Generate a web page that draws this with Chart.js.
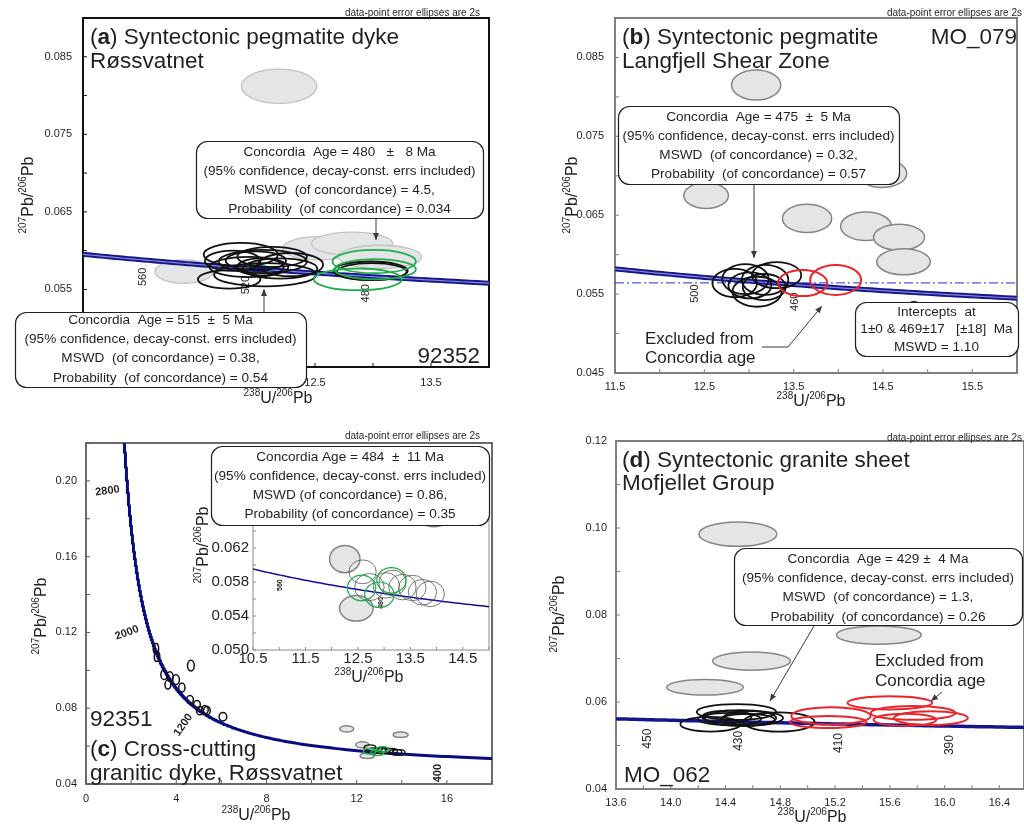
<!DOCTYPE html>
<html lang="en">
<head>
<meta charset="utf-8">
<title>U–Pb Tera-Wasserburg concordia diagrams</title>
<script src="https://cdn.jsdelivr.net/npm/chart.js@4.4.1/dist/chart.umd.min.js"></script>
<style>
  html, body { margin: 0; padding: 0; background: #ffffff; }
  #sheet { position: relative; width: 1024px; height: 824px; overflow: hidden; background: #ffffff; }
  #sheet canvas { position: absolute; left: 0; top: 0; }
</style>
</head>
<body>
<div id="sheet">
  <canvas id="panelA" width="1024" height="824"></canvas>
  <canvas id="panelB" width="1024" height="824"></canvas>
  <canvas id="panelC" width="1024" height="824"></canvas>
  <canvas id="panelD" width="1024" height="824"></canvas>
  <canvas id="panelCInset" width="1024" height="824"></canvas>
</div>
<script>
// ---------------------------------------------------------------------------
// Analyses: [238U/206Pb, 207Pb/206Pb, 2s error on x, 2s error on y]
// ---------------------------------------------------------------------------

// (a) 92352 — syntectonic pegmatite dyke, Røssvatnet
const aGrayEllipses = [
  [12.19, 0.0812, 0.325, 0.0022],
  [11.37, 0.0573, 0.25, 0.0015],
  [12.53, 0.0603, 0.31, 0.0015],
  [12.82, 0.0609, 0.35, 0.0015],
  [13.06, 0.0592, 0.36, 0.0015]
];
const aBlackEllipses = [
  [11.86, 0.0595, 0.32, 0.0015],
  [12.05, 0.0586, 0.38, 0.0015],
  [11.76, 0.0563, 0.27, 0.0012],
  [12.07, 0.0569, 0.44, 0.0015],
  [12.29, 0.0582, 0.28, 0.0015],
  [11.99, 0.0587, 0.26, 0.0012],
  [12.13, 0.0592, 0.30, 0.0013],
  [11.93, 0.0579, 0.34, 0.0013],
  [11.79, 0.0587, 0.24, 0.0013],
  [12.20, 0.0577, 0.32, 0.0013],
  [12.03, 0.0579, 0.20, 0.0011],
  [12.98, 0.0574, 0.32, 0.0012],
  [12.99, 0.0573, 0.30, 0.0011]
];
const aGreenEllipses = [
  [13.01, 0.0586, 0.36, 0.0015],
  [12.87, 0.0563, 0.38, 0.0014],
  [13.02, 0.0576, 0.35, 0.0013]
];
const aConcordiaFits = [[515, 0.11, 0.0005]];
const aAgeLabels = [560, 520, 480];
const aXTickLabels = [10.5, 11.5, 12.5, 13.5];
const aYTickLabels = [0.045, 0.055, 0.065, 0.075, 0.085];

// (b) MO_079 — syntectonic pegmatite, Langfjell Shear Zone
const bGrayEllipses = [
  [13.08, 0.0815, 0.275, 0.0019],
  [12.52, 0.0675, 0.25, 0.00165],
  [14.49, 0.0703, 0.275, 0.0018],
  [13.65, 0.0646, 0.275, 0.0018],
  [14.31, 0.0636, 0.285, 0.0018],
  [14.68, 0.0622, 0.285, 0.00165],
  [14.73, 0.0591, 0.30, 0.00165]
];
const bBlackEllipses = [
  [12.84, 0.0564, 0.25, 0.0018],
  [13.09, 0.0553, 0.275, 0.0019],
  [12.96, 0.0569, 0.26, 0.0019],
  [13.18, 0.0568, 0.26, 0.0019],
  [13.31, 0.0574, 0.275, 0.00165],
  [13.01, 0.0561, 0.24, 0.00165],
  [13.17, 0.0559, 0.24, 0.00165]
];
const bRedEllipses = [
  [13.60, 0.0564, 0.275, 0.00165],
  [13.97, 0.0568, 0.285, 0.0019]
];
const bInterceptAges = [1, 469];
const bAgeLabels = [500, 460, 420];
const bXTickLabels = [11.5, 12.5, 13.5, 14.5, 15.5];
const bYTickLabels = [0.045, 0.055, 0.065, 0.075, 0.085];

// (c) 92351 — cross-cutting granitic dyke, Røssvatnet
const cCoreEllipses = [
  [3.10, 0.1115, 0.12, 0.0027],
  [3.15, 0.1073, 0.12, 0.0027],
  [3.46, 0.0977, 0.14, 0.0026],
  [3.72, 0.0967, 0.14, 0.0026],
  [3.63, 0.0925, 0.13, 0.0024],
  [3.99, 0.0951, 0.15, 0.0026],
  [4.25, 0.0909, 0.14, 0.0024],
  [4.65, 0.1025, 0.15, 0.0028],
  [4.61, 0.0845, 0.15, 0.0022],
  [4.92, 0.0819, 0.15, 0.0022],
  [5.05, 0.0787, 0.15, 0.0022],
  [5.27, 0.0792, 0.15, 0.0022],
  [5.36, 0.0787, 0.15, 0.0022],
  [6.07, 0.0755, 0.17, 0.0022]
];
const cGrayEllipses = [
  [11.56, 0.0691, 0.31, 0.0017],
  [12.25, 0.0607, 0.29, 0.0016],
  [12.47, 0.0549, 0.32, 0.0015],
  [13.95, 0.0660, 0.33, 0.0015]
];
const cBlackEllipses = [
  [12.59, 0.0592, 0.26, 0.0014],
  [12.72, 0.0574, 0.28, 0.0016],
  [13.04, 0.0576, 0.25, 0.0015],
  [13.16, 0.0579, 0.26, 0.0015],
  [13.35, 0.0574, 0.26, 0.0015],
  [13.54, 0.0573, 0.26, 0.0015],
  [13.73, 0.0568, 0.27, 0.0015],
  [13.88, 0.0566, 0.27, 0.0015]
];
const cGreenEllipses = [
  [12.57, 0.0573, 0.27, 0.0015],
  [12.91, 0.0565, 0.28, 0.0015],
  [13.14, 0.0582, 0.28, 0.0015]
];
const cAgeLabels = [2800, 2000, 1200, 400];
const cInsetAgeLabels = [560, 480];
const cXTickLabels = [0, 4, 8, 12, 16];
const cYTickLabels = [0.04, 0.08, 0.12, 0.16, 0.20];
const cInsetXTickLabels = [10.5, 11.5, 12.5, 13.5, 14.5];
const cInsetYTickLabels = [0.050, 0.054, 0.058, 0.062, 0.066, 0.070];

// (d) MO_062 — syntectonic granite sheet, Mofjellet Group
const dGrayEllipses = [
  [14.49, 0.0986, 0.285, 0.0028],
  [15.52, 0.0754, 0.31, 0.0021],
  [14.59, 0.0694, 0.285, 0.0021],
  [14.25, 0.0634, 0.28, 0.0018]
];
const dBlackEllipses = [
  [14.48, 0.0577, 0.29, 0.0018],
  [14.29, 0.0549, 0.22, 0.0017],
  [14.79, 0.0554, 0.26, 0.0022],
  [14.51, 0.0563, 0.26, 0.0018],
  [14.43, 0.0561, 0.23, 0.0014],
  [14.56, 0.0559, 0.20, 0.0014],
  [14.41, 0.0566, 0.18, 0.0014],
  [14.60, 0.0563, 0.22, 0.0016]
];
const dRedEllipses = [
  [15.17, 0.0568, 0.29, 0.0020],
  [15.15, 0.0554, 0.28, 0.0014],
  [15.60, 0.0598, 0.31, 0.0015],
  [15.77, 0.0575, 0.31, 0.0016],
  [15.71, 0.0559, 0.23, 0.0014],
  [15.90, 0.0563, 0.27, 0.0016]
];
const dAgeLabels = [450, 430, 410, 390];
const dXTickLabels = [13.6, 14.0, 14.4, 14.8, 15.2, 15.6, 16.0, 16.4];
const dYTickLabels = [0.04, 0.06, 0.08, 0.10, 0.12];

// ---------------------------------------------------------------------------
// Concordia (Tera-Wasserburg) from the U decay constants
// ---------------------------------------------------------------------------
const LAMBDA_238 = 1.55125e-10;
const LAMBDA_235 = 9.8485e-10;
const U238_U235 = 137.88;

function concordia(ageMa) {
  const t = ageMa * 1e6;
  const e238 = Math.expm1(LAMBDA_238 * t);
  const e235 = Math.expm1(LAMBDA_235 * t);
  return { x: 1 / e238, y: e235 / e238 / U238_U235 };
}
function concordiaCurve(fromMa, toMa, stepMa) {
  const pts = [];
  for (let t = fromMa; t <= toMa + 1e-9; t += stepMa) pts.push(concordia(t));
  return pts;
}
// discordia through the two intercept ages, evaluated at the given x values
function discordia(ages, xs) {
  const p = concordia(ages[0]), q = concordia(ages[1]);
  const slope = (q.y - p.y) / (q.x - p.x);
  return xs.map(x => ({ x, y: q.y + (x - q.x) * slope }));
}

// ---------------------------------------------------------------------------
// Drawing helpers
// ---------------------------------------------------------------------------
const FONT = '"Liberation Sans", Arial, Helvetica, sans-serif';
const INK = '#231f20';
const NAVY = '#16168c';
const YW = 60, XH = 30;

const toPts = arr => arr.map(([x, y, sx, sy]) => ({ x, y, sx, sy }));
const fitPts = arr => arr.map(([age, sx, sy]) => Object.assign(concordia(age), { sx, sy }));

function ellipseSet(points, style) {
  return Object.assign({ type: 'scatter', data: points, ellipse: true, pointRadius: 0,
    pointHoverRadius: 0, showLine: false, layer: 'over' }, style);
}
function lineSet(points, color, width, order, extra) {
  return Object.assign({ type: 'scatter', data: points, showLine: true, pointRadius: 0,
    pointHoverRadius: 0, borderColor: color, borderWidth: width, fill: false, tension: 0, order }, extra || {});
}

const GRAY_SOFT = { ellFill: '#e4e5e7', ellStroke: '#c2c2c2', ellWidth: 1.3, layer: 'under' };
const GRAY_HARD = { ellFill: '#e4e5e7', ellStroke: '#858585', ellWidth: 1.5, layer: 'under' };
const BLACK = { ellStroke: '#111111', ellWidth: 1.8 };
const GREEN = { ellStroke: '#1fae4c', ellWidth: 1.8 };
const RED = { ellStroke: '#e8262b', ellWidth: 2 };

function tickFmt(labelled, digits) {
  return v => labelled.some(t => Math.abs(t - v) < 1e-9) ? Number(v).toFixed(digits) : '';
}
function axis(min, max, step, labelled, digits, pad, size, isY) {
  return {
    type: 'linear', min, max,
    grid: { display: false, drawTicks: false }, border: { display: false },
    ticks: { stepSize: step, autoSkip: false, maxRotation: 0, minRotation: 0, includeBounds: false,
      padding: pad, color: INK, font: { family: FONT, size }, callback: tickFmt(labelled, digits) },
    afterFit(s) { if (isY) s.width = YW; else s.height = XH; }
  };
}

// error ellipses, drawn through the chart's own scales
function drawEllipses(chart, layer) {
  const { ctx, chartArea: a, scales: { x, y } } = chart;
  ctx.save();
  ctx.beginPath(); ctx.rect(a.left, a.top, a.right - a.left, a.bottom - a.top); ctx.clip();
  chart.data.datasets.forEach(ds => {
    if (!ds.ellipse || ds.layer !== layer) return;
    ds.data.forEach(p => {
      const cx = x.getPixelForValue(p.x), cy = y.getPixelForValue(p.y);
      const rx = Math.abs(x.getPixelForValue(p.x + p.sx) - cx);
      const ry = Math.abs(y.getPixelForValue(p.y + p.sy) - cy);
      ctx.beginPath(); ctx.ellipse(cx, cy, rx, ry, 0, 0, Math.PI * 2);
      if (ds.ellFill) { ctx.fillStyle = ds.ellFill; ctx.fill(); }
      if (ds.ellStroke) { ctx.lineWidth = ds.ellWidth; ctx.strokeStyle = ds.ellStroke; ctx.stroke(); }
    });
  });
  ctx.restore();
}
const ellipsePlugin = {
  id: 'errorEllipses',
  beforeDatasetsDraw(chart) { drawEllipses(chart, 'under'); },
  afterDatasetsDraw(chart) { drawEllipses(chart, 'over'); }
};

// plot frame with inward tick marks
const framePlugin = {
  id: 'frame',
  beforeDraw(chart, args, o) {
    if (!o.background) return;
    const a = chart.chartArea, ctx = chart.ctx;
    ctx.save(); ctx.fillStyle = o.background;
    ctx.fillRect(a.left, a.top, a.right - a.left, a.bottom - a.top); ctx.restore();
  },
  beforeDatasetsDraw(chart, args, o) {
    const { ctx, chartArea: a, scales } = chart;
    ctx.save();
    ctx.strokeStyle = o.color; ctx.lineWidth = o.width;
    ctx.strokeRect(a.left, a.top, a.right - a.left, a.bottom - a.top);
    ctx.lineWidth = 1;
    ['x', 'y'].forEach(id => {
      const s = scales[id];
      s.ticks.forEach(t => {
        const p = s.getPixelForValue(t.value);
        ctx.beginPath();
        if (id === 'x') { ctx.moveTo(p, a.bottom); ctx.lineTo(p, a.bottom - o.tick); }
        else { ctx.moveTo(a.left, p); ctx.lineTo(a.left + o.tick, p); }
        ctx.stroke();
      });
    });
    ctx.restore();
  }
};

// age labels along the concordia
const ageLabelPlugin = {
  id: 'ageLabels',
  afterDatasetsDraw(chart, args, o) {
    if (!o.items) return;
    const { ctx, chartArea: a, scales: { x, y } } = chart;
    ctx.save();
    ctx.beginPath(); ctx.rect(a.left, a.top, a.right - a.left, a.bottom - a.top); ctx.clip();
    ctx.fillStyle = INK; ctx.font = o.font; ctx.textAlign = 'center'; ctx.textBaseline = 'middle';
    o.items.forEach(([age, dx, dy, rot]) => {
      const c = concordia(age);
      ctx.save();
      ctx.translate(x.getPixelForValue(c.x) + dx, y.getPixelForValue(c.y) + dy);
      ctx.rotate(rot * Math.PI / 180);
      ctx.fillText(String(age), 0, 0);
      ctx.restore();
    });
    ctx.restore();
  }
};

function rrect(ctx, x0, y0, x1, y1, r) {
  ctx.beginPath();
  ctx.moveTo(x0 + r, y0);
  ctx.arcTo(x1, y0, x1, y1, r);
  ctx.arcTo(x1, y1, x0, y1, r);
  ctx.arcTo(x0, y1, x0, y0, r);
  ctx.arcTo(x0, y0, x1, y0, r);
  ctx.closePath();
}
function noteBox(ctx, box, lines, firstY, step, size) {
  const [x0, y0, x1, y1] = box;
  ctx.save();
  rrect(ctx, x0 + 0.5, y0 + 0.5, x1 + 0.5, y1 + 0.5, 11);
  ctx.fillStyle = '#ffffff'; ctx.fill();
  ctx.lineWidth = 1.2; ctx.strokeStyle = INK; ctx.stroke();
  ctx.fillStyle = INK; ctx.font = size + 'px ' + FONT;
  ctx.textAlign = 'center'; ctx.textBaseline = 'middle';
  lines.forEach((s, i) => ctx.fillText(s, (x0 + x1) / 2, firstY + i * step));
  ctx.restore();
}
function arrow(ctx, pts) {
  ctx.save();
  ctx.strokeStyle = '#3a3a3a'; ctx.fillStyle = '#3a3a3a'; ctx.lineWidth = 1;
  ctx.beginPath(); ctx.moveTo(pts[0][0], pts[0][1]);
  for (let i = 1; i < pts.length; i++) ctx.lineTo(pts[i][0], pts[i][1]);
  ctx.stroke();
  const [xa, ya] = pts[pts.length - 2], [xb, yb] = pts[pts.length - 1];
  const ang = Math.atan2(yb - ya, xb - xa), L = 7, W = 3;
  const c = Math.cos(ang), s = Math.sin(ang);
  ctx.beginPath(); ctx.moveTo(xb, yb);
  ctx.lineTo(xb - L * c + W * s, yb - L * s - W * c);
  ctx.lineTo(xb - L * c - W * s, yb - L * s + W * c);
  ctx.closePath(); ctx.fill();
  ctx.restore();
}
function text(ctx, s, x, y, size, align) {
  ctx.save();
  ctx.font = size + 'px ' + FONT; ctx.fillStyle = INK;
  ctx.textAlign = align || 'left'; ctx.textBaseline = 'alphabetic';
  ctx.fillText(s, x, y);
  ctx.restore();
}
function panelTitle(ctx, x, y, letter, rest, size) {
  ctx.save();
  ctx.fillStyle = INK; ctx.textBaseline = 'alphabetic'; ctx.textAlign = 'left';
  ctx.font = size + 'px ' + FONT; ctx.fillText('(', x, y);
  let cx = x + ctx.measureText('(').width;
  ctx.font = 'bold ' + size + 'px ' + FONT; ctx.fillText(letter, cx, y);
  cx += ctx.measureText(letter).width;
  ctx.font = size + 'px ' + FONT; ctx.fillText(') ' + rest, cx, y);
  ctx.restore();
}
// isotope ratio labels with superscript mass numbers
const X_RATIO = [['238', true], ['U', false], ['/', false], ['206', true], ['Pb', false]];
const Y_RATIO = [['207', true], ['Pb', false], ['/', false], ['206', true], ['Pb', false]];
function ratioLabel(ctx, cx, cy, parts, size, vertical) {
  const sup = Math.round(size * 0.62);
  ctx.save();
  ctx.translate(cx, cy);
  if (vertical) ctx.rotate(-Math.PI / 2);
  let w = 0;
  parts.forEach(([t, s]) => { ctx.font = (s ? sup : size) + 'px ' + FONT; w += ctx.measureText(t).width; });
  let x = -w / 2;
  const base = size * 0.716 / 2;
  ctx.fillStyle = INK; ctx.textAlign = 'left'; ctx.textBaseline = 'alphabetic';
  parts.forEach(([t, s]) => {
    ctx.font = (s ? sup : size) + 'px ' + FONT;
    ctx.fillText(t, x, s ? base - size * 0.42 : base);
    x += ctx.measureText(t).width;
  });
  ctx.restore();
}
const CAPTION = 'data-point error ellipses are 2s';
const CONF = '(95% confidence, decay-const. errs included)';

function makePanel(canvasId, cfg) {
  const [L, T, R, B] = cfg.box;
  return new Chart(document.getElementById(canvasId), {
    type: 'scatter',
    data: { datasets: cfg.datasets },
    options: {
      responsive: false, animation: false, devicePixelRatio: 1, events: [],
      layout: { autoPadding: false, padding: { left: L - YW, top: T, right: 1024 - R, bottom: 824 - B - XH } },
      plugins: { legend: { display: false }, tooltip: { enabled: false }, frame: cfg.frame, ageLabels: cfg.ages },
      scales: { x: cfg.x, y: cfg.y }
    },
    plugins: [framePlugin, ageLabelPlugin, ellipsePlugin, { id: 'notes', afterDraw: chart => cfg.notes(chart.ctx) }]
  });
}

// ---------------------------------------------------------------------------
// (a)
// ---------------------------------------------------------------------------
makePanel('panelA', {
  box: [83, 18, 489, 367],
  x: axis(10.5, 14.0, 0.5, aXTickLabels, 1, 9, 11, false),
  y: axis(0.045, 0.090, 0.005, aYTickLabels, 3, 11, 11, true),
  frame: { color: '#111111', width: 2, tick: 4 },
  ages: { font: '11px ' + FONT, items: aAgeLabels.map(a => [a, 0, 17, -90]) },
  datasets: [
    ellipseSet(toPts(aGrayEllipses), GRAY_SOFT),
    lineSet(concordiaCurve(400, 640, 2), '#8787d2', 1.2, 1),
    lineSet(concordiaCurve(400, 640, 2), NAVY, 5, 2),
    ellipseSet(fitPts(aConcordiaFits), { ellFill: NAVY, ellStroke: '#3fb7b7', ellWidth: 0.8 }),
    ellipseSet(toPts(aBlackEllipses), BLACK),
    ellipseSet(toPts(aGreenEllipses), GREEN)
  ],
  notes(ctx) {
    text(ctx, CAPTION, 480, 15.5, 10, 'right');
    panelTitle(ctx, 90, 44, 'a', 'Syntectonic pegmatite dyke', 22.5);
    text(ctx, 'Røssvatnet', 90, 68, 22.5);
    noteBox(ctx, [196, 141, 483, 218], ['Concordia  Age = 480   ±   8 Ma', CONF,
      'MSWD  (of concordance) = 4.5,', 'Probability  (of concordance) = 0.034'], 152, 19, 13.6);
    arrow(ctx, [[376, 218], [376, 240]]);
    noteBox(ctx, [15, 312, 306, 387], ['Concordia  Age = 515  ±  5 Ma', CONF,
      'MSWD  (of concordance) = 0.38,', 'Probability  (of concordance) = 0.54'], 320, 19.3, 13.6);
    arrow(ctx, [[264, 312], [264, 289]]);
    text(ctx, '92352', 480, 363, 22.5, 'right');
    ratioLabel(ctx, 278, 397, X_RATIO, 16, false);
    ratioLabel(ctx, 27, 195, Y_RATIO, 16, true);
  }
});

// ---------------------------------------------------------------------------
// (b)
// ---------------------------------------------------------------------------
makePanel('panelB', {
  box: [615, 18, 1024, 373],
  x: axis(11.5, 16.0, 0.5, bXTickLabels, 1, 7, 11, false),
  y: axis(0.045, 0.090, 0.005, bYTickLabels, 3, 11, 11, true),
  frame: { color: '#7f7f7f', width: 2, tick: 4 },
  ages: { font: '11px ' + FONT, items: bAgeLabels.map(a => [a, 0, 17, -90]) },
  datasets: [
    ellipseSet(toPts(bGrayEllipses), GRAY_HARD),
    lineSet(discordia(bInterceptAges, [11.5, 16.0]), '#2b2bd6', 1, 0, { borderDash: [9, 3, 2, 3] }),
    lineSet(concordiaCurve(360, 560, 2), '#8787d2', 1.2, 1),
    lineSet(concordiaCurve(360, 560, 2), NAVY, 5, 2),
    ellipseSet(toPts(bBlackEllipses), BLACK),
    ellipseSet(toPts(bRedEllipses), RED)
  ],
  notes(ctx) {
    text(ctx, CAPTION, 1022, 15.5, 10, 'right');
    panelTitle(ctx, 622, 44, 'b', 'Syntectonic pegmatite', 22.5);
    text(ctx, 'Langfjell Shear Zone', 622, 68, 22.5);
    text(ctx, 'MO_079', 1017, 44, 22.5, 'right');
    noteBox(ctx, [618, 106, 899, 184], ['Concordia  Age = 475  ±  5 Ma', CONF,
      'MSWD  (of concordance) = 0.32,', 'Probability  (of concordance) = 0.57'], 117, 19, 13.6);
    arrow(ctx, [[754, 184], [754, 258]]);
    noteBox(ctx, [855, 302, 1018, 356], ['Intercepts  at', '1±0 & 469±17   [±18]  Ma', 'MSWD = 1.10'], 312, 17.5, 13.6);
    text(ctx, 'Excluded from', 645, 344, 17);
    text(ctx, 'Concordia age', 645, 363, 17);
    arrow(ctx, [[762, 347], [788, 347], [822, 306]]);
    ratioLabel(ctx, 811, 400, X_RATIO, 16, false);
    ratioLabel(ctx, 571, 195, Y_RATIO, 16, true);
  }
});

// ---------------------------------------------------------------------------
// (c) full range
// ---------------------------------------------------------------------------
const cAgeLabelPlacement = [[-20, 4, -8], [-21, 6, -20], [-13, 17, -55], [0, 17, -90]];
makePanel('panelC', {
  box: [86, 443, 492, 784],
  x: axis(0, 18, 2, cXTickLabels, 0, 8, 11, false),
  y: axis(0.04, 0.22, 0.02, cYTickLabels, 2, 9, 11, true),
  frame: { color: '#5a5a5a', width: 1.8, tick: 4 },
  ages: { font: 'bold 11px ' + FONT, items: cAgeLabels.map((a, i) => [a].concat(cAgeLabelPlacement[i])) },
  datasets: [
    ellipseSet(toPts(cGrayEllipses), GRAY_HARD),
    lineSet(concordiaCurve(330, 3200, 5), '#0b0b80', 3, 1),
    ellipseSet(toPts(cCoreEllipses), { ellStroke: '#111111', ellWidth: 1.5 }),
    ellipseSet(toPts(cBlackEllipses), { ellStroke: '#111111', ellWidth: 1.3 }),
    ellipseSet(toPts(cGreenEllipses), { ellStroke: '#1fae4c', ellWidth: 1.5 })
  ],
  notes(ctx) {
    text(ctx, CAPTION, 480, 439, 10, 'right');
    text(ctx, '92351', 90, 726, 22.5);
    panelTitle(ctx, 90, 756, 'c', 'Cross-cutting', 22.5);
    text(ctx, 'granitic dyke, Røssvatnet', 90, 780, 22.5);
    ratioLabel(ctx, 256, 814, X_RATIO, 16, false);
    ratioLabel(ctx, 40, 616, Y_RATIO, 16, true);
  }
});

// ---------------------------------------------------------------------------
// (d)
// ---------------------------------------------------------------------------
makePanel('panelD', {
  box: [616, 441, 1024, 789],
  x: axis(13.6, 16.58, 0.2, dXTickLabels, 1, 7, 11, false),
  y: axis(0.04, 0.12, 0.01, dYTickLabels, 2, 9, 11, true),
  frame: { color: '#7f7f7f', width: 2, tick: 4 },
  ages: { font: '12px ' + FONT, items: dAgeLabels.map(a => [a, 0, 19, -90]) },
  datasets: [
    ellipseSet(toPts(dGrayEllipses), GRAY_HARD),
    lineSet(concordiaCurve(350, 480, 1), NAVY, 3.5, 1),
    ellipseSet(toPts(dBlackEllipses), BLACK),
    ellipseSet(toPts(dRedEllipses), RED)
  ],
  notes(ctx) {
    text(ctx, CAPTION, 1022, 441, 10, 'right');
    panelTitle(ctx, 622, 467, 'd', 'Syntectonic granite sheet', 22.5);
    text(ctx, 'Mofjellet Group', 622, 490, 22.5);
    noteBox(ctx, [734, 548, 1022, 625], ['Concordia  Age = 429 ±  4 Ma', CONF,
      'MSWD  (of concordance) = 1.3,', 'Probability  (of concordance) = 0.26'], 559, 19.3, 13.6);
    arrow(ctx, [[814, 626], [770, 701]]);
    text(ctx, 'Excluded from', 875, 666, 17);
    text(ctx, 'Concordia age', 875, 686, 17);
    arrow(ctx, [[942, 692], [931, 701]]);
    text(ctx, 'MO_062', 624, 782, 22.5);
    ratioLabel(ctx, 812, 816, X_RATIO, 16, false);
    ratioLabel(ctx, 558, 614, Y_RATIO, 16, true);
  }
});

// ---------------------------------------------------------------------------
// (c) inset — detail around the Ordovician cluster
// ---------------------------------------------------------------------------
makePanel('panelCInset', {
  box: [253, 480, 489, 650],
  x: axis(10.5, 15.0, 0.5, cInsetXTickLabels, 1, 0, 15, false),
  y: axis(0.050, 0.070, 0.002, cInsetYTickLabels, 3, 4, 15, true),
  frame: { color: '#8c8c8c', width: 1, tick: 3, background: '#ffffff' },
  ages: { font: 'bold 7px ' + FONT, items: cInsetAgeLabels.map(a => [a, 0, 10, -90]) },
  datasets: [
    ellipseSet(toPts(cGrayEllipses), GRAY_HARD),
    lineSet(concordiaCurve(380, 640, 2), '#1010a0', 1.5, 1),
    ellipseSet(toPts(cBlackEllipses), { ellStroke: '#555555', ellWidth: 0.8 }),
    ellipseSet(toPts(cGreenEllipses), { ellStroke: '#1fae4c', ellWidth: 1.2 })
  ],
  notes(ctx) {
    noteBox(ctx, [211, 446, 489, 525], ['Concordia Age = 484  ±  11 Ma', CONF,
      'MSWD (of concordance) = 0.86,', 'Probability (of concordance) = 0.35'], 457, 19, 13.6);
    ratioLabel(ctx, 369, 676, X_RATIO, 16, false);
    ratioLabel(ctx, 202, 545, Y_RATIO, 16, true);
  }
});
</script>
</body>
</html>
